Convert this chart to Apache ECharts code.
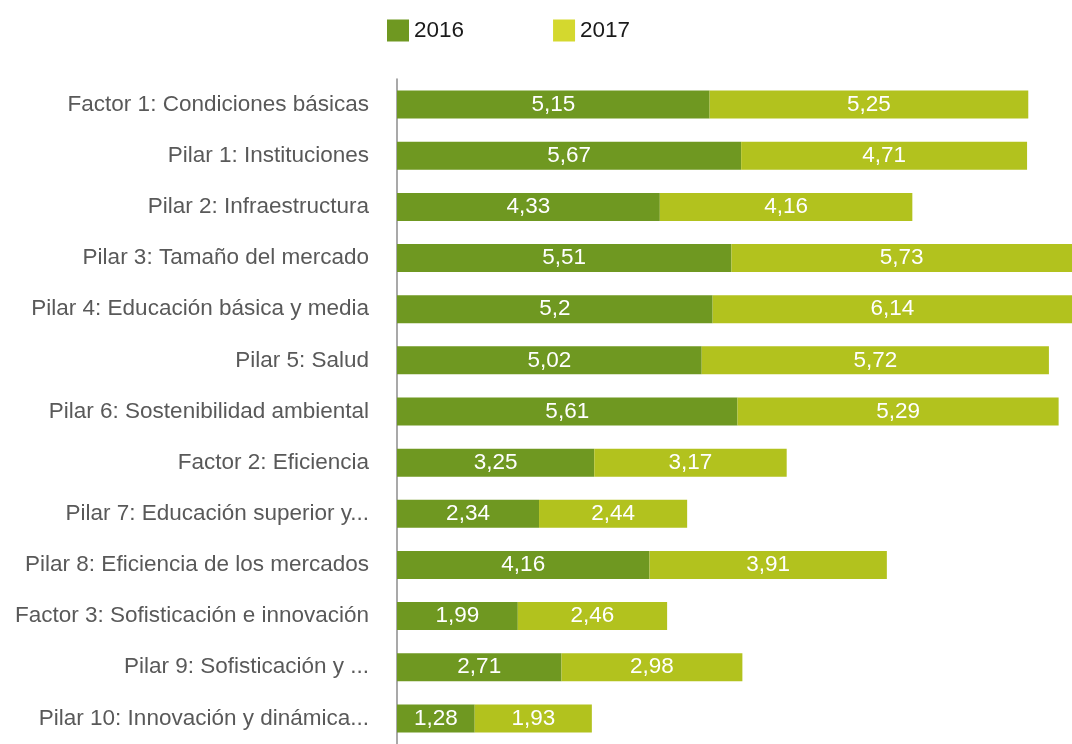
<!DOCTYPE html>
<html><head><meta charset="utf-8">
<script src="https://cdn.jsdelivr.net/npm/echarts@6/dist/echarts.min.js"></script>
<style>html,body{margin:0;padding:0;background:#fff}#c{width:1072px;height:744px}</style>
</head><body><div id="c"></div>
<script>
const categories = [
  'Factor 1: Condiciones básicas',
  'Pilar 1: Instituciones',
  'Pilar 2: Infraestructura',
  'Pilar 3: Tamaño del mercado',
  'Pilar 4: Educación básica y media',
  'Pilar 5: Salud',
  'Pilar 6: Sostenibilidad ambiental',
  'Factor 2: Eficiencia',
  'Pilar 7: Educación superior y...',
  'Pilar 8: Eficiencia de los mercados',
  'Factor 3: Sofisticación e innovación',
  'Pilar 9: Sofisticación y ...',
  'Pilar 10: Innovación y dinámica...'
];
const values2016 = [5.15, 5.67, 4.33, 5.51, 5.2, 5.02, 5.61, 3.25, 2.34, 4.16, 1.99, 2.71, 1.28];
const values2017 = [5.25, 4.71, 4.16, 5.73, 6.14, 5.72, 5.29, 3.17, 2.44, 3.91, 2.46, 2.98, 1.93];
const seriesNames = ['2016', '2017'];

const FONT = "'Liberation Sans', Arial, sans-serif";
const unit = 60.7;
const gridLeft = 397;
const xMax = (1072 - gridLeft) / unit;
const chart = echarts.init(document.getElementById('c'));
const lbl = {
  show: true, position: 'inside', color: '#ffffff', fontFamily: FONT, fontSize: 22.5,
  formatter: p => String(p.value).replace('.', ',')
};
chart.setOption({
  animation: false,
  legend: {
    top: 19, left: 387, padding: 0, itemWidth: 22, itemHeight: 22, itemGap: 89, icon: 'rect',
    textStyle: { fontFamily: FONT, fontSize: 22.5, color: '#1a1a1a' },
    data: [
      { name: seriesNames[0], itemStyle: { color: '#6f9821' } },
      { name: seriesNames[1], itemStyle: { color: '#d4d82e' } }
    ]
  },
  grid: { left: gridLeft, top: 79, right: 0, height: 51.7 * categories.length, containLabel: false },
  xAxis: { type: 'value', min: 0, max: xMax, show: false },
  yAxis: {
    type: 'category', inverse: true, data: categories,
    axisLine: { show: true, lineStyle: { color: '#8c8c8c', width: 1.5 } },
    axisTick: { show: false },
    axisLabel: { fontFamily: FONT, fontSize: 22.5, color: '#595959', margin: 28 }
  },
  series: [
    { name: seriesNames[0], type: 'bar', stack: 's', data: values2016, barWidth: 28,
      itemStyle: { color: '#6f9821' }, label: lbl },
    { name: seriesNames[1], type: 'bar', stack: 's', data: values2017, barWidth: 28,
      itemStyle: { color: '#b2c21e' }, label: lbl }
  ]
});
</script></body></html>
